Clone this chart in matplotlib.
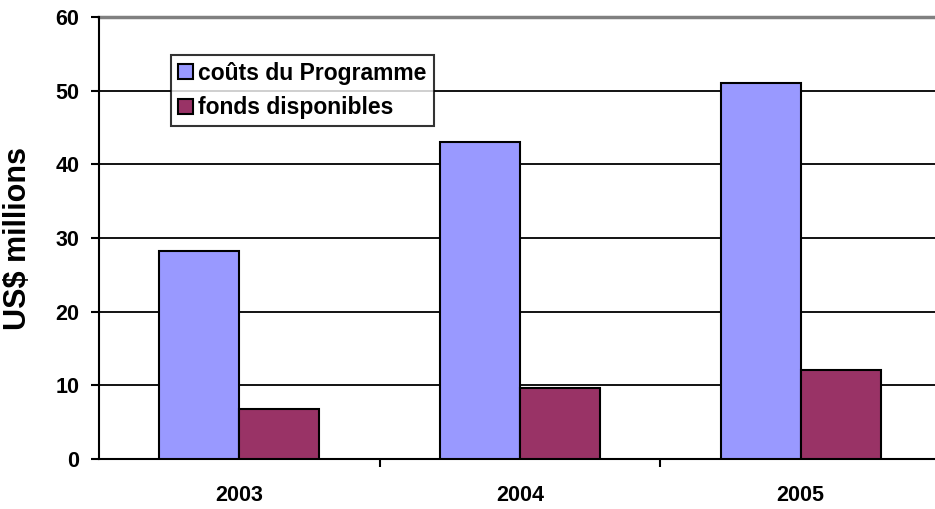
import matplotlib.pyplot as plt
import numpy as np

years = ['2003', '2004', '2005']
couts = [28.3, 43.0, 51.0]
fonds = [6.8, 9.6, 12.1]
y_ticks = [0, 10, 20, 30, 40, 50, 60]

plt.rcParams['font.family'] = ['Liberation Sans', 'DejaVu Sans']
plt.rcParams['font.weight'] = 'bold'

fig = plt.figure(figsize=(9.35, 5.09), dpi=100)
# plot area runs off the right side of the picture, as in the original
ax = fig.add_axes([99/935, 50/509, 842/935, 442/509])

x = np.arange(len(years))
width = 0.285
ax.bar(x - width/2, couts, width, color='#9999FF', edgecolor='black', linewidth=1.5,
       label='coûts du Programme', zorder=3)
ax.bar(x + width/2, fonds, width, color='#993366', edgecolor='black', linewidth=1.5,
       label='fonds disponibles', zorder=3)

ax.set_xlim(-0.5, 2.5)
ax.set_ylim(0, 60)
ax.set_yticks(y_ticks)
ax.set_yticklabels([str(v) for v in y_ticks], fontsize=15.5, fontweight='bold')
for v in y_ticks[1:-1]:
    ax.axhline(v, color='black', lw=1.3, zorder=1)
ax.axhline(60, color='#808080', lw=2.5, zorder=1, clip_on=False)

ax.set_xticks([0.5, 1.5, 2.5])
ax.set_xticklabels([])
ax.set_xticks(x, minor=True)
ax.set_xticklabels(years, minor=True, fontsize=15.5, fontweight='bold')
ax.tick_params(axis='x', which='minor', length=0, pad=19)
ax.tick_params(axis='x', which='major', length=6, width=1.5, direction='out')
ax.tick_params(axis='y', length=6, width=1.5, direction='out', pad=8)

for s in ['top', 'right']:
    ax.spines[s].set_visible(False)
ax.spines['left'].set_linewidth(1.5)
ax.spines['bottom'].set_linewidth(1.5)

ax.set_ylabel('US$ millions', fontsize=22, fontweight='bold')
ax.yaxis.set_label_coords(-0.078, 0.5)

leg = fig.legend(loc='upper left', bbox_to_anchor=(171/935, 1 - 55/509),
                 fontsize=16.5, frameon=True, fancybox=False, edgecolor='black',
                 handlelength=0.65, handleheight=0.65, handletextpad=0.25,
                 borderpad=0.3, labelspacing=0.5, borderaxespad=0)
leg.get_frame().set_linewidth(1.5)
for t in leg.get_texts():
    t.set_fontweight('bold')

plt.savefig('out.png', dpi=100)
